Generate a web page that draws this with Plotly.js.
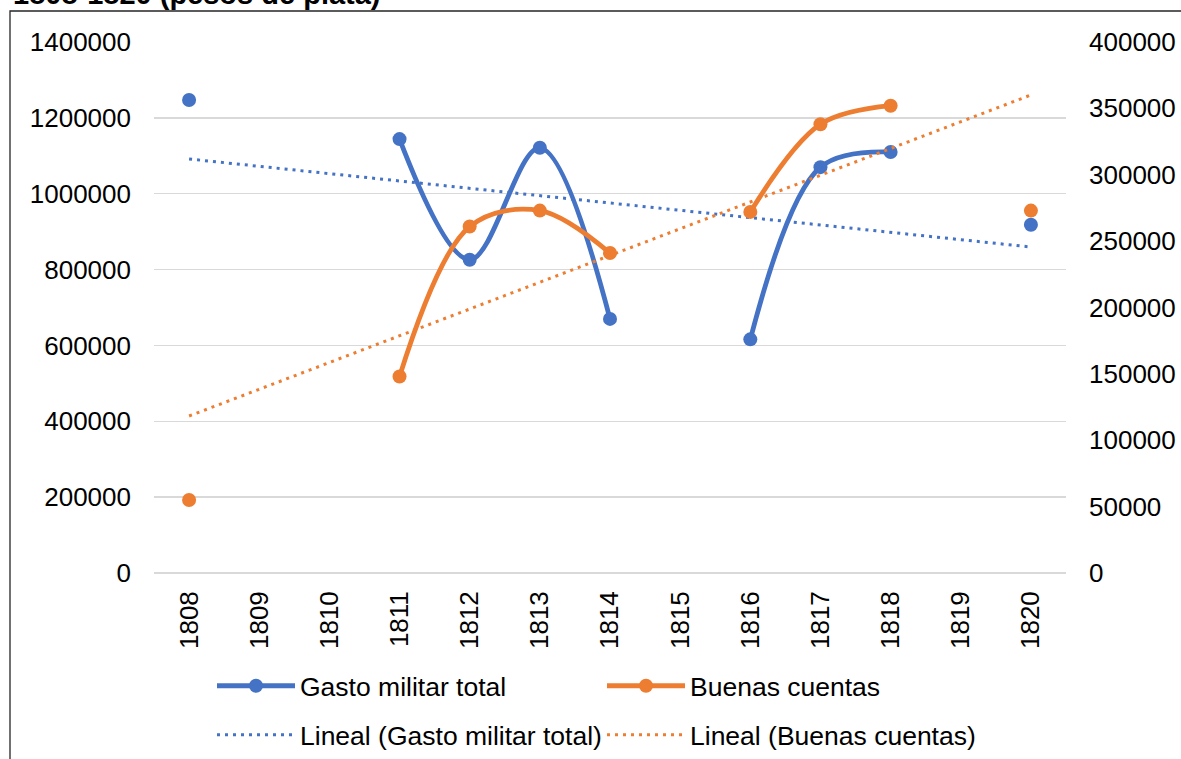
<!DOCTYPE html>
<html>
<head>
<meta charset="utf-8">
<script src="https://cdn.plot.ly/plotly-3.0.1.min.js"></script>
<style>html,body{margin:0;padding:0;background:#fff;}#chart{width:1181px;height:759px;}</style>
</head>
<body>
<div id="chart"></div>
<script>
var years = ['1808','1809','1810','1811','1812','1813','1814','1815','1816','1817','1818','1819','1820'];
var gastoMilitar = [1247000, null, null, 1144000, 826000, 1121000, 670000, null, 616000, 1070000, 1110000, null, 918000];
var buenasCuentas = [55000, null, null, 148000, 261000, 273000, 241000, null, 272000, 338000, 352000, null, 273000];
var titleText = '1808-1820 (pesos de plata)';
var leftTicks = [0, 200000, 400000, 600000, 800000, 1000000, 1200000, 1400000];
var rightTicks = [0, 50000, 100000, 150000, 200000, 250000, 300000, 350000, 400000];

var BLUE = '#4472C4', ORANGE = '#ED7D31';
var FONT = 'Liberation Sans, Arial, sans-serif';

function linearTrend(vals) {
  var xs = [], ys = [];
  vals.forEach(function(v, i) { if (v !== null) { xs.push(i); ys.push(v); } });
  var n = xs.length, mx = 0, my = 0;
  for (var i = 0; i < n; i++) { mx += xs[i]; my += ys[i]; }
  mx /= n; my /= n;
  var sxy = 0, sxx = 0;
  for (var j = 0; j < n; j++) { sxy += (xs[j]-mx)*(ys[j]-my); sxx += (xs[j]-mx)*(xs[j]-mx); }
  var b = sxy / sxx, a = my - b*mx;
  var last = vals.length - 1;
  return {x: [years[0], years[last]], y: [a, a + b*last]};
}
var tG = linearTrend(gastoMilitar);
var tB = linearTrend(buenasCuentas);

var traces = [
  {x: tG.x, y: tG.y, type: 'scatter', mode: 'lines', name: 'Lineal (Gasto militar total)',
   line: {color: BLUE, width: 3, dash: '3px,5px'}, yaxis: 'y', legend: 'legend2', hoverinfo: 'skip'},
  {x: tB.x, y: tB.y, type: 'scatter', mode: 'lines', name: 'Lineal (Buenas cuentas)',
   line: {color: ORANGE, width: 3, dash: '3px,5px'}, yaxis: 'y2', legend: 'legend2', hoverinfo: 'skip'},
  {x: years, y: gastoMilitar, type: 'scatter', mode: 'lines+markers', name: 'Gasto militar total',
   line: {color: BLUE, width: 4.8, shape: 'spline', smoothing: 1}, marker: {color: BLUE, size: 14},
   connectgaps: false, yaxis: 'y', legend: 'legend'},
  {x: years, y: buenasCuentas, type: 'scatter', mode: 'lines+markers', name: 'Buenas cuentas',
   line: {color: ORANGE, width: 4.8, shape: 'spline', smoothing: 1}, marker: {color: ORANGE, size: 14},
   connectgaps: false, yaxis: 'y2', legend: 'legend'}
];

var W = 1181, H = 759;
var L = 154, R = 1066, T = 42, B = 573;
function px(x) { return (x - L) / (R - L); }
function py(y) { return (B - y) / (B - T); }
function cx(x) { return x / W; }
function cy(y) { return 1 - y / H; }

var legendBase = {orientation: 'h', xref: 'container', yref: 'container', xanchor: 'left', yanchor: 'middle',
  bgcolor: 'rgba(0,0,0,0)', borderwidth: 0, itemwidth: 78, entrywidth: 297,
  font: {size: 26.5, color: '#000', family: FONT}, traceorder: 'normal'};

var layout = {
  width: W, height: H,
  margin: {l: L, r: W - R, t: T, b: H - B, pad: 0, autoexpand: false},
  paper_bgcolor: '#fff', plot_bgcolor: '#fff',
  font: {family: FONT, size: 26, color: '#000'},
  showlegend: true,
  xaxis: {type: 'category', categoryorder: 'array', categoryarray: years, range: [-0.5, 12.5],
          showgrid: false, showline: false, zeroline: false, ticks: '', tickangle: -90,
          tickfont: {size: 26, color: '#000'}, ticklabelstandoff: 12, fixedrange: true},
  yaxis: {range: [0, 1400000], tickvals: leftTicks, tickformat: 'd', showgrid: true,
          gridcolor: '#D9D9D9', gridwidth: 1.5, zeroline: true, zerolinecolor: '#D9D9D9', zerolinewidth: 1.5,
          showline: false, ticks: '', tickfont: {size: 26, color: '#000'}, ticklabelstandoff: 22},
  yaxis2: {range: [0, 400000], tickvals: rightTicks, tickformat: 'd', overlaying: 'y', side: 'right',
           showgrid: false, zeroline: false, showline: false, ticks: '',
           tickfont: {size: 26, color: '#000'}, ticklabelstandoff: 22},
  legend: Object.assign({}, legendBase, {x: cx(212), y: cy(686)}),
  legend2: Object.assign({}, legendBase, {x: cx(212), y: cy(735)}),
  annotations: [{text: '<b>' + titleText + '</b>', xref: 'paper', yref: 'paper',
                 x: px(11), xanchor: 'left', y: py(-6), yanchor: 'middle', showarrow: false,
                 font: {size: 29, color: '#000', family: FONT}}],
  shapes: [{type: 'path', xref: 'paper', yref: 'paper',
            path: 'M ' + px(10) + ',' + py(770) + ' L ' + px(10) + ',' + py(11) + ' L ' + px(1190) + ',' + py(11),
            line: {color: '#262626', width: 1.3}}]
};

Plotly.newPlot('chart', traces, layout, {displayModeBar: false, staticPlot: true});
</script>
</body>
</html>
